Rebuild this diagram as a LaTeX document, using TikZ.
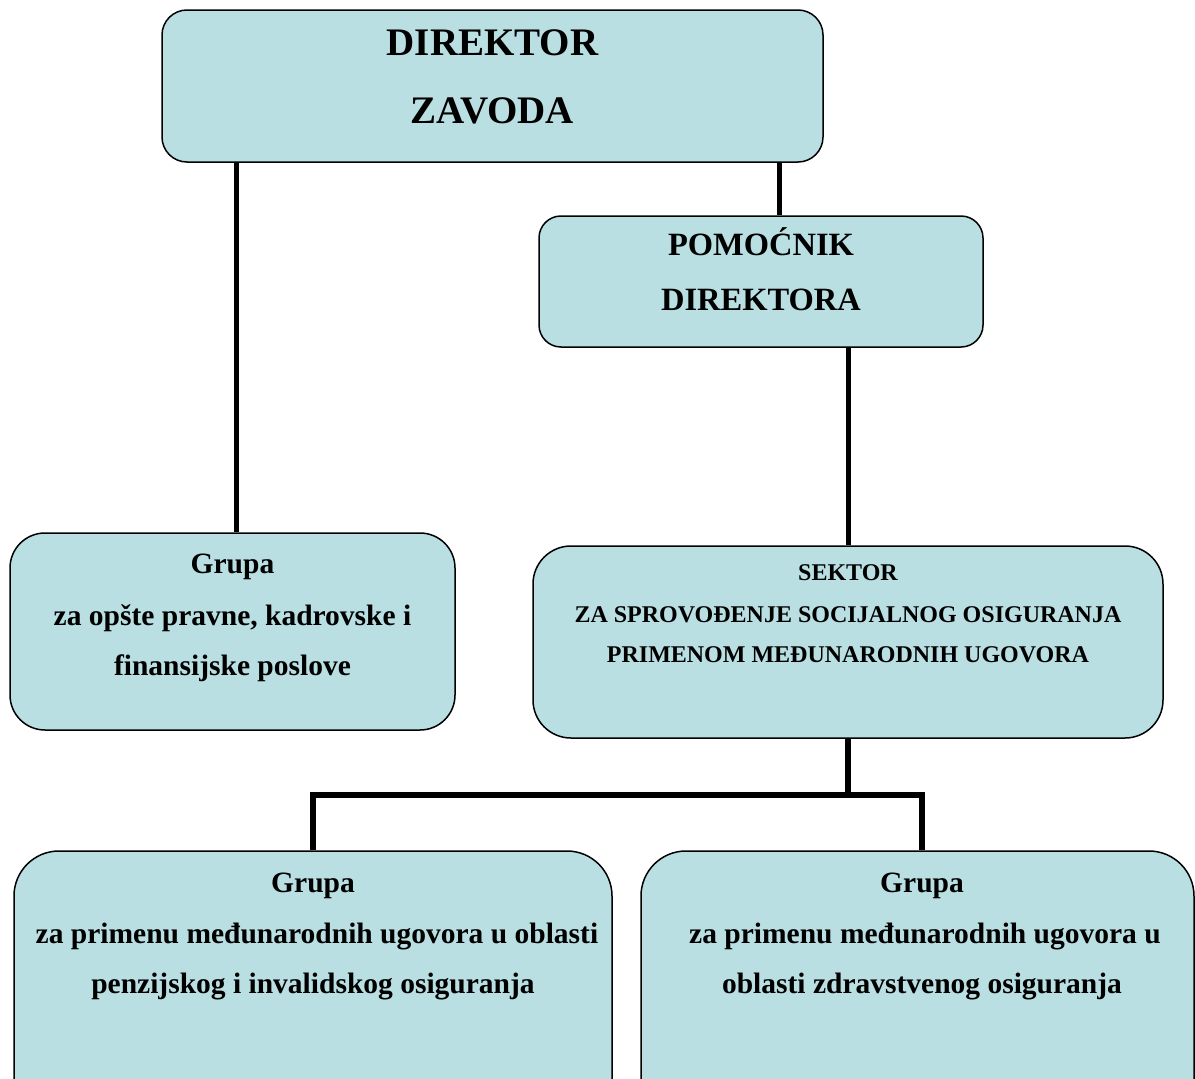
\documentclass[tikz,border=0pt]{standalone}
\usepackage{fontspec}
\setmainfont{Liberation Serif}
\definecolor{boxfill}{RGB}{185,223,227}
\begin{document}
\begin{tikzpicture}[x=1pt,y=-1pt,
  orgbox/.style={draw=black, line width=1.5pt, fill=boxfill, inner sep=0pt},
  txt/.style={anchor=base, inner sep=0pt, font=\bfseries},
  conn/.style={line width=5pt, line join=miter, line cap=butt},
  connthick/.style={line width=6pt, line join=miter, line cap=butt}]
\useasboundingbox (0,0) rectangle (1195,1079);
\clip (0,0) rectangle (1195,1079);
% boxes
\node[orgbox, rounded corners=25pt, minimum width=661pt, minimum height=152pt] (dir) at (492.5,86) {};
\node[orgbox, rounded corners=22pt, minimum width=444pt, minimum height=131pt] (pom) at (761,281.5) {};
\node[orgbox, rounded corners=35pt, minimum width=445pt, minimum height=197pt] (g1) at (232.5,631.5) {};
\node[orgbox, rounded corners=38pt, minimum width=630pt, minimum height=192pt] (sek) at (848,642) {};
\node[orgbox, rounded corners=45pt, minimum width=598pt, minimum height=300pt] (g2) at (313,1001) {};
\node[orgbox, rounded corners=45pt, minimum width=553pt, minimum height=300pt] (g3) at (917.5,1001) {};
% connectors
\coordinate (j1) at (236,0);
\coordinate (j2) at (779,0);
\coordinate (d3) at (922,795);
\draw[conn] (dir.south -| j1) -- (g1.north -| j1);
\draw[conn] (dir.south -| j2) -- (pom.north -| j2);
\draw[conn] (pom.south -| sek.north) -- (sek.north);
\draw[connthick] (sek.south) -- (sek.south |- d3);
\draw[connthick] (g2.north) |- (d3) -- (d3 |- g3.north);
% texts
\node[txt, font=\bfseries\fontsize{39}{39}\selectfont] (t1) at (492.5,55) {DIREKTOR};
\node[txt, font=\bfseries\fontsize{39}{39}\selectfont] (t2) at (492.5,123) {ZAVODA};
\node[txt, font=\bfseries\fontsize{32.5}{32.5}\selectfont] (t3) at (761,255) {POMOĆNIK};
\node[txt, font=\bfseries\fontsize{32.5}{32.5}\selectfont] (t4) at (761,310) {DIREKTORA};
\node[txt, font=\bfseries\fontsize{29.5}{29.5}\selectfont] (t5) at (232.5,573) {Grupa};
\node[txt, font=\bfseries\fontsize{29.5}{29.5}\selectfont] (t6) at (232.5,625) {za opšte pravne, kadrovske i};
\node[txt, font=\bfseries\fontsize{29.5}{29.5}\selectfont] (t7) at (232.5,675) {finansijske poslove};
\node[txt, font=\bfseries\fontsize{24}{24}\selectfont] (t8) at (848,580) {SEKTOR};
\node[txt, font=\bfseries\fontsize{24}{24}\selectfont] (t9) at (848,622) {ZA SPROVOĐENJE SOCIJALNOG OSIGURANJA};
\node[txt, font=\bfseries\fontsize{24}{24}\selectfont] (t10) at (848,662) {PRIMENOM MEĐUNARODNIH UGOVORA};
\node[txt, font=\bfseries\fontsize{29.5}{29.5}\selectfont] (t11) at (313,892) {Grupa};
\node[txt, font=\bfseries\fontsize{29.5}{29.5}\selectfont] (t12) at (317,943) {za primenu međunarodnih ugovora u oblasti};
\node[txt, font=\bfseries\fontsize{29.5}{29.5}\selectfont] (t13) at (313,993) {penzijskog i invalidskog osiguranja};
\node[txt, font=\bfseries\fontsize{29.5}{29.5}\selectfont] (t14) at (922,892) {Grupa};
\node[txt, font=\bfseries\fontsize{29.5}{29.5}\selectfont] (t15) at (925,943) {za primenu međunarodnih ugovora u};
\node[txt, font=\bfseries\fontsize{29.5}{29.5}\selectfont] (t16) at (922,993) {oblasti zdravstvenog osiguranja};
\end{tikzpicture}
\end{document}
